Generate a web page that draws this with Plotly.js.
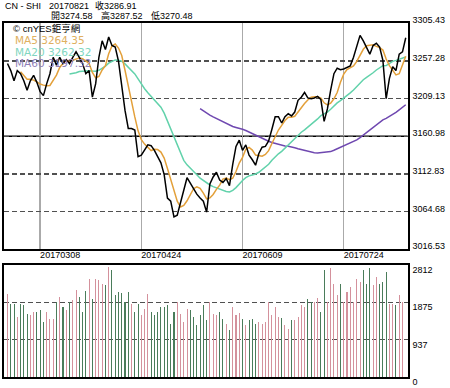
<!DOCTYPE html>
<html><head><meta charset="utf-8">
<script src="https://cdn.plot.ly/plotly-3.0.1.min.js"></script>
<style>html,body{margin:0;padding:0;background:#fff}#chart{width:450px;height:388px}</style>
</head><body><div id="chart"></div>
<script>
// Daily closes (index = trading day, 2017-02-22 .. 2017-08-21)
const closes = [
3254,3245,3232,3245,3241,3232,3220,3232,3239,3230,
3218,3213,3228,3241,3262,3252,3262,3254,3259,3254,
3262,3269,3262,3254,3241,3245,3211,3228,3262,3283,
3272,3288,3277,3275,3257,3224,3194,3171,3171,3169,
3135,3137,3143,3150,3149,3143,3135,3127,3112,3082,
3078,3058,3060,3075,3092,3108,3101,3094,3087,3082,
3078,3064,3100,3109,3115,3105,3102,3107,3098,3125,
3148,3156,3143,3150,3137,3131,3124,3139,3147,3148,
3155,3170,3186,3186,3178,3186,3190,3187,3192,3207,
3211,3217,3210,3209,3210,3212,3208,3180,3196,3220,
3241,3248,3246,3247,3249,3251,3262,3275,3290,3283,
3274,3266,3277,3280,3275,3258,3209,3235,3250,3245,
3266,3269,3287
];
// Daily volume
const volumes = [
2092,1840,1840,1506,1840,1800,1590,1565,1632,1632,
1674,1380,1632,1464,1464,1883,2008,1757,1674,1883,
1925,2176,2008,1632,2150,2468,1966,2468,2427,2343,
2301,2761,2678,2050,2134,2117,1883,2134,1840,1632,
1840,1548,1715,2092,1632,1548,1632,1757,1757,1800,
1339,1632,1883,1590,1380,1715,1674,1506,1297,1548,
1800,
1423,1883,1590,1548,1632,1448,1339,1172,1757,1548,
1615,1464,1297,1423,1464,1339,1380,1339,1380,1891,
1548,1757,1506,1481,1297,1213,1423,1423,1506,1800,
1757,1966,1883,1883,1992,1632,2678,1883,2736,2343,
2050,2343,1883,2134,2259,1883,2468,2385,2678,2343,
2736,2301,2510,2343,2385,2636,1840,1840,1800,2050,
1883
];
const dateTickIndex = [10, 41, 72, 103];
const dateTickLabels = ['20170308', '20170424', '20170609', '20170724'];
const priceTicks = [3016.53, 3064.68, 3112.83, 3160.98, 3209.13, 3257.28, 3305.43];
const volumeTicks = [0, 937, 1875, 2812];
const headerLine1 = ['CN - SHI', '20170821', '收3286.91'];
const headerLine2 = ['開3274.58', '高3287.52', '低3270.48'];
const legendTexts = ['MA5 3264.35', 'MA20 3262.32', 'MA60 3197.32'];
const sourceText = '© cnYES鉅亨網';

function movingAverage(arr, n) {
  return arr.map((v, i) => {
    if (i < n - 1) return null;
    let s = 0;
    for (let k = i - n + 1; k <= i; k++) s += arr[k];
    return s / n;
  });
}
const idx = closes.map((_, i) => i);
const volIdx = volumes.map((_, i) => i);
const ma5 = movingAverage(closes, 5);
const ma20 = movingAverage(closes, 20);
const ma60 = movingAverage(closes, 60);
const RED = '#d4919c', GREEN = '#4a7c5a';
const volColors = volumes.map((_, i) => (i === 0 || closes[i] >= closes[i - 1]) ? RED : GREEN);

const FONT = 'Arial, "Liberation Sans", "Noto Sans CJK TC", sans-serif';
const LFONT = '"DejaVu Sans", Verdana, sans-serif';
const W = 450, H = 388;
const px = x => x / W, py = y => 1 - y / H;

const traces = [
  {x: idx, y: ma60, mode: 'lines', line: {color: '#6f48b0', width: 1.5}, xaxis: 'x', yaxis: 'y', hoverinfo: 'skip'},
  {x: idx, y: ma20, mode: 'lines', line: {color: '#62d2ab', width: 1.5}, xaxis: 'x', yaxis: 'y', hoverinfo: 'skip'},
  {x: idx, y: ma5, mode: 'lines', line: {color: '#e3a03a', width: 1.5}, xaxis: 'x', yaxis: 'y', hoverinfo: 'skip'},
  {x: idx, y: closes, mode: 'lines', line: {color: '#000000', width: 1.5}, xaxis: 'x', yaxis: 'y', hoverinfo: 'skip'},
  {x: volIdx, y: volumes, type: 'bar', width: 0.32, marker: {color: volColors, line: {width: 0}}, xaxis: 'x2', yaxis: 'y2', hoverinfo: 'skip'}
];

const xRange = [-1.07, 122.6];
const xDom = [px(4), px(407.7)];
const annotations = [];
const a = (text, x, y, color, size, fam) => annotations.push({text, x: px(x), y: py(y), xref: 'paper', yref: 'paper', xanchor: 'left', yanchor: 'middle', showarrow: false, font: {family: fam || FONT, size, color}});
[3, 47, 93].forEach((x, k) => a(headerLine1[k], x, 6, '#000', 9));
[49, 99, 149].forEach((x, k) => a(headerLine2[k], x, 15.7, '#000', 9));
a(sourceText, 11, 28.3, '#000', 9.5);
a(legendTexts[0], 13, 40, '#e0b060', 10.5, LFONT);
a(legendTexts[1], 13, 51.7, '#7fd6c0', 10.5, LFONT);
a(legendTexts[2], 13, 62.9, '#8f7fb8', 10.5, LFONT);

const layout = {
  width: W, height: H, margin: {l: 0, r: 0, t: 0, b: 0},
  paper_bgcolor: '#fff', plot_bgcolor: '#fff', showlegend: false, bargap: 0,
  font: {family: FONT, size: 9, color: '#000'},
  xaxis: {domain: xDom, range: xRange, anchor: 'y', tickmode: 'array', tickvals: dateTickIndex, ticktext: dateTickLabels,
    showgrid: true, gridcolor: '#aaaaaa', gridwidth: 1.5, showline: true, mirror: true, linecolor: '#000', linewidth: 2,
    ticks: '', ticklabelshift: 20, ticklabelstandoff: -4, zeroline: false, tickfont: {size: 9, family: FONT}},
  yaxis: {domain: [py(249.3), py(23.3)], range: [3016.52, 3305.44], side: 'right', anchor: 'x', tickmode: 'array',
    tickvals: priceTicks, ticktext: priceTicks.map(v => v.toFixed(2)),
    showgrid: true, griddash: '5px,3px', gridcolor: '#505050', gridwidth: 1.5, showline: true, mirror: true, linecolor: '#000', linewidth: 2,
    ticks: '', ticklabelshift: -3, ticklabelstandoff: 1, zeroline: false, tickfont: {size: 9, family: FONT}},
  xaxis2: {domain: xDom, range: xRange, anchor: 'y2', showticklabels: false, showgrid: false, showline: true, mirror: true,
    linecolor: '#000', linewidth: 2, zeroline: false, ticks: ''},
  yaxis2: {domain: [py(377), py(265)], range: [0, 2812.5], side: 'right', anchor: 'x2', tickmode: 'array',
    tickvals: volumeTicks, ticktext: volumeTicks.map(String),
    showgrid: true, griddash: '5px,3px', gridcolor: '#505050', gridwidth: 1.5, showline: true, mirror: true, linecolor: '#000', linewidth: 2,
    ticks: '', ticklabelshift: 5, ticklabelstandoff: 1, zeroline: false, tickfont: {size: 9, family: FONT}},
  shapes: [{type: 'line', xref: 'paper', yref: 'y', x0: xDom[0], x1: xDom[1], y0: 3160.98, y1: 3160.98, line: {color: '#000', width: 1.5}, layer: 'below'}],
  annotations
};
Plotly.newPlot('chart', traces, layout, {staticPlot: true, displayModeBar: false});
</script>
</body></html>
